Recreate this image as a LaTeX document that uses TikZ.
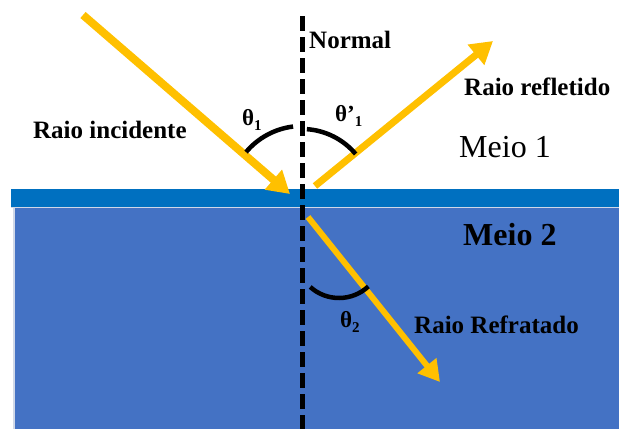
\documentclass[tikz,border=0pt]{standalone}
\usepackage{fontspec}
\setmainfont{Liberation Serif}
\usepackage{tikz}
\usetikzlibrary{arrows.meta,calc}
\definecolor{optRay}{HTML}{FFC000}
\definecolor{optStrip}{HTML}{0070C0}
\definecolor{optMedium}{HTML}{4472C4}
\definecolor{optEdge}{HTML}{D0D8E8}
\newcommand{\thetaSub}[2]{#1\raisebox{-5pt}{\fontsize{15}{15}\selectfont #2}}
\tikzset{
    optRayBase/.style={
        draw=optRay,
        line width=8pt,
        -{Triangle[length=22pt,width=25pt]}
    },
    optNormal/.style={
        draw=black,
        line width=5pt,
        dash pattern=on 15pt off 6pt
    },
    optAngle/.style={draw=black, line width=4.5pt},
    % Text
    optLabel/.style={
        anchor=base west,
        inner sep=0pt,
        font=\fontsize{25}{29}\selectfont\bfseries
    },
    optThetaLabel/.style={optLabel, font=\fontsize{23}{26}\selectfont\bfseries},
    optMediumLabel/.style={optLabel, font=\fontsize{32}{36}\selectfont}
}

\begin{document}
\begin{tikzpicture}[x=1pt, y=-1pt]
    \useasboundingbox (0,0) rectangle (619,429);

    % Media
    \fill[optStrip] (11,189) rectangle (619,207);
    \fill[optMedium] (13,208) rectangle (619,429);
    \draw[optEdge, line width=1.5pt] (11,207.5) -- (619,207.5);
    \draw[optEdge, line width=2pt] (14,208) -- (14,429);

    % Points
    \coordinate (hit) at (302,199);
    \coordinate (incStart) at (83,15);
    \coordinate (incEnd) at (290,194);
    \coordinate (refStart) at (315,186);
    \coordinate (refEnd) at (493,41);
    \coordinate (trStart) at (308,217);
    \coordinate (trEnd) at (440,382);
    \coordinate (normalTop) at (302,16);
    \coordinate (normalBottom) at (302,429);
    \coordinate (th2Centre) at (339,255);

    % Rays
    \draw[optRayBase] (incStart) -- (incEnd);
    \draw[optRayBase, line width=7pt] (refStart) -- (refEnd);
    \draw[optRayBase, line width=6pt, -{Triangle[length=21pt,width=23pt]}] (trStart) -- (trEnd);
    \draw[optNormal] (normalTop) -- (normalBottom);

    % Angles
    \draw[optAngle] (hit) ++(220:73) arc[start angle=220, end angle=263, radius=73];
    \draw[optAngle] (hit) ++(274:70) arc[start angle=274, end angle=320, radius=70];
    \draw[optAngle] (th2Centre) ++(132:43) arc[start angle=132, end angle=47, radius=43];

    % Labels
    \node[optLabel] (normal) at (309,48) {Normal};
    \node[optLabel] (incident) at (33,138) {Raio incidente};
    \node[optLabel] (reflected) at (464,95) {Raio refletido};
    \node[optLabel] (refracted) at (414,333) {Raio Refratado};
    \node[optMediumLabel] (medium1) at (459,157) {Meio 1};
    \node[optMediumLabel, font=\fontsize{32}{36}\selectfont\bfseries] (medium2) at (463,245) {Meio 2};
    \node[optThetaLabel] (theta1) at (242,125) {\thetaSub{θ}{1}};
    \node[optThetaLabel] (theta1p) at (335,121) {\thetaSub{θ’}{1}};
    \node[optThetaLabel] (theta2) at (340,327) {\thetaSub{θ}{2}};
\end{tikzpicture}
\end{document}
